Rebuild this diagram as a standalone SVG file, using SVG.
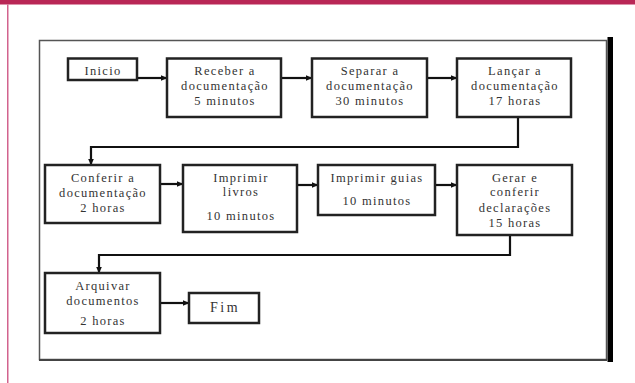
<svg xmlns="http://www.w3.org/2000/svg" width="635" height="383" viewBox="0 0 635 383">
<style>
.box{fill:#fff;stroke:#222;stroke-width:2.5}
.t{font-family:"Liberation Serif","Times New Roman",serif;font-size:12.5px;fill:#333;text-anchor:middle;letter-spacing:1.3px}
.c{fill:none;stroke:#111;stroke-width:2.2}
</style>
<defs>
<marker id="ah" markerWidth="7" markerHeight="6" refX="6.5" refY="3" orient="auto" markerUnits="userSpaceOnUse">
<path d="M0,0 L7,3 L0,6 Z" fill="#111"/>
</marker>
</defs>
<rect x="0" y="0" width="635" height="383" fill="#fff"/>
<rect x="0" y="0" width="635" height="4.5" fill="#B92756"/>
<rect x="7" y="4.5" width="1.5" height="378.5" fill="#D2638E"/>
<g id="frame">
<rect x="39.5" y="40.5" width="567" height="319" fill="none" stroke="#555" stroke-width="1.5"/>
<line x1="39" y1="360" x2="607" y2="360" stroke="#444" stroke-width="2"/>
<rect x="607.5" y="37" width="5.5" height="325" fill="#000"/>
</g>
<g id="connectors">
<line class="c" x1="137" y1="78" x2="167" y2="78" marker-end="url(#ah)"/>
<line class="c" x1="281" y1="78" x2="312" y2="78" marker-end="url(#ah)"/>
<line class="c" x1="427" y1="78" x2="457" y2="78" marker-end="url(#ah)"/>
<polyline class="c" points="518,117 518,147 91,147 91,165" marker-end="url(#ah)"/>
<line class="c" x1="160" y1="184" x2="183" y2="184" marker-end="url(#ah)"/>
<line class="c" x1="297" y1="185" x2="318" y2="185" marker-end="url(#ah)"/>
<line class="c" x1="435" y1="185" x2="457" y2="185" marker-end="url(#ah)"/>
<polyline class="c" points="510,235 510,255 99,255 99,273" marker-end="url(#ah)"/>
<line class="c" x1="160" y1="303" x2="189" y2="303" marker-end="url(#ah)"/>
</g>
<g id="inicio">
<rect class="box" x="68" y="58.5" width="69" height="21.5"/>
<text class="t" x="103" y="75">Inicio</text>
</g>
<g id="receber">
<rect class="box" x="167" y="58.5" width="114" height="58.5"/>
<text class="t" x="225" y="75">Receber a</text>
<text class="t" x="225" y="90">documentação</text>
<text class="t" x="225" y="105">5 minutos</text>
</g>
<g id="separar">
<rect class="box" x="312" y="58.5" width="115" height="58.5"/>
<text class="t" x="370" y="75">Separar a</text>
<text class="t" x="370" y="90">documentação</text>
<text class="t" x="370" y="105">30 minutos</text>
</g>
<g id="lancar">
<rect class="box" x="457" y="58.5" width="114" height="58.5"/>
<text class="t" x="515" y="75">Lançar a</text>
<text class="t" x="515" y="90">documentação</text>
<text class="t" x="515" y="105">17 horas</text>
</g>
<g id="conferir">
<rect class="box" x="45" y="165" width="115" height="58"/>
<text class="t" x="103" y="182">Conferir a</text>
<text class="t" x="103" y="197">documentação</text>
<text class="t" x="103" y="212">2 horas</text>
</g>
<g id="imprimir-livros">
<rect class="box" x="183" y="165" width="114" height="67"/>
<text class="t" x="241" y="182">Imprimir</text>
<text class="t" x="241" y="196">livros</text>
<text class="t" x="241" y="220">10 minutos</text>
</g>
<g id="imprimir-guias">
<rect class="box" x="318" y="165" width="117" height="50"/>
<text class="t" x="377" y="182">Imprimir guias</text>
<text class="t" x="377" y="205">10 minutos</text>
</g>
<g id="gerar">
<rect class="box" x="457" y="165" width="115" height="70"/>
<text class="t" x="515" y="182">Gerar e</text>
<text class="t" x="515" y="196">conferir</text>
<text class="t" x="515" y="212">declarações</text>
<text class="t" x="515" y="227">15 horas</text>
</g>
<g id="arquivar">
<rect class="box" x="45" y="273" width="115" height="60"/>
<text class="t" x="103" y="290">Arquivar</text>
<text class="t" x="103" y="305">documentos</text>
<text class="t" x="103" y="325">2 horas</text>
</g>
<g id="fim">
<rect class="box" x="189" y="293" width="70" height="30"/>
<text class="t" x="225" y="312" style="font-size:14px;letter-spacing:2.5px">Fim</text>
</g>
</svg>
